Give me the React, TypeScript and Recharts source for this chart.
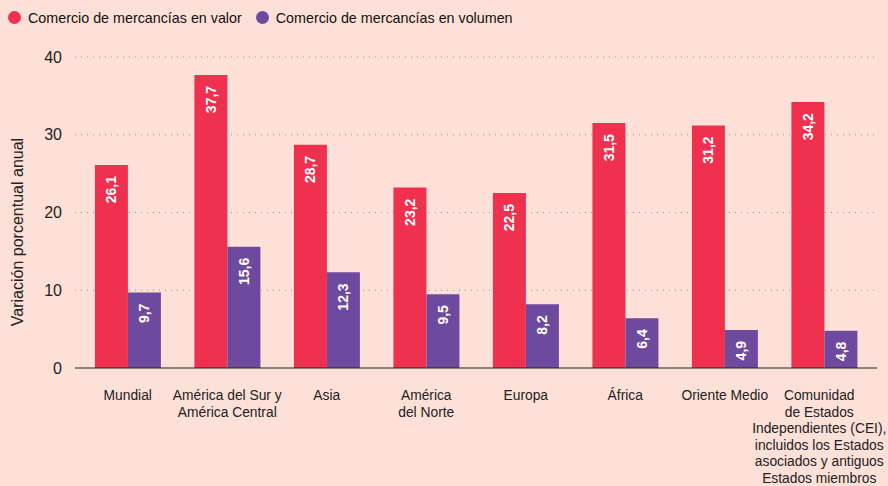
import React from 'react';
import { BarChart, Bar, XAxis, YAxis, CartesianGrid, LabelList, Label } from 'recharts';

const regions = [
  'Mundial',
  'América del Sur y\nAmérica Central',
  'Asia',
  'América\ndel Norte',
  'Europa',
  'África',
  'Oriente Medio',
  'Comunidad\nde Estados\nIndependientes (CEI),\nincluidos los Estados\nasociados y antiguos\nEstados miembros',
];
const valueGrowth = [26.1, 37.7, 28.7, 23.2, 22.5, 31.5, 31.2, 34.2];
const volumeGrowth = [9.7, 15.6, 12.3, 9.5, 8.2, 6.4, 4.9, 4.8];
const yTicks = [0, 10, 20, 30, 40];
const seriesNames = ['Comercio de mercancías en valor', 'Comercio de mercancías en volumen'];

const RED = '#f0304f';
const PURPLE = '#6e4a9e';
const BG = '#fde0d7';
const FONT = '"Liberation Sans", Arial, sans-serif';

const data = regions.map((region, i) => ({
  region,
  valor: valueGrowth[i],
  volumen: volumeGrowth[i],
}));

const fmt = (v: number) => v.toFixed(1).replace('.', ',');

const BarValue = (props: any) => {
  const { x, y, width, value } = props;
  const cx = x + width / 2;
  const ty = y + 11;
  return (
    <text
      x={cx}
      y={ty}
      transform={`rotate(-90, ${cx}, ${ty})`}
      textAnchor="end"
      dominantBaseline="central"
      fill="#fff"
      fontWeight="bold"
      fontSize={14}
      fontFamily={FONT}
    >
      {fmt(value)}
    </text>
  );
};

const RegionTick = (props: any) => {
  const { x, y, payload, index } = props;
  const lines = String(payload.value).split('\n');
  // the last (long) label sits a touch left so it stays inside the frame
  const tx = index === regions.length - 1 ? x - 5 : x;
  return (
    <text x={tx} y={y} textAnchor="middle" fill="#222" fontSize={13.8} fontFamily={FONT}>
      {lines.map((line, i) => (
        <tspan key={i} x={tx} dy={i === 0 ? 24 : 16.5}>
          {line}
        </tspan>
      ))}
    </text>
  );
};

const Dot = ({ color }: { color: string }) => (
  <span
    style={{
      display: 'inline-block',
      width: 13,
      height: 13,
      borderRadius: '50%',
      background: color,
      marginRight: 7,
      verticalAlign: -1,
    }}
  />
);

export default function App() {
  return (
    <div
      style={{
        position: 'fixed',
        left: 0,
        top: 0,
        width: 888,
        height: 486,
        background: BG,
        fontFamily: FONT,
        overflow: 'hidden',
      }}
    >
      <div
        style={{
          position: 'absolute',
          left: 8,
          top: 10,
          fontSize: 14.3,
          color: '#111',
          whiteSpace: 'nowrap',
        }}
      >
        <Dot color={RED} />
        <span style={{ marginRight: 14 }}>{seriesNames[0]}</span>
        <Dot color={PURPLE} />
        <span>{seriesNames[1]}</span>
      </div>
      <BarChart
        width={888}
        height={486}
        data={data}
        margin={{ top: 57, right: 11, bottom: 0, left: 0 }}
        barCategoryGap="17%"
        barGap={0}
      >
        <CartesianGrid
          vertical={false}
          stroke="#9a8f8c"
          strokeDasharray="1 5"
          horizontalValues={[10, 20, 30, 40]}
        />
        <XAxis
          dataKey="region"
          interval={0}
          tickLine={false}
          axisLine={{ stroke: '#222', strokeWidth: 1.2 }}
          height={118}
          padding={{ left: 3, right: 3 }}
          tick={<RegionTick />}
        />
        <YAxis
          width={75}
          domain={[0, 40]}
          ticks={yTicks}
          axisLine={false}
          tickLine={false}
          tickSize={0}
          tickMargin={13}
          tick={{ fill: '#222', fontSize: 16, fontFamily: FONT }}
        >
          <Label
            content={() => (
              <text
                x={23}
                y={232}
                transform="rotate(-90, 23, 232)"
                textAnchor="middle"
                fill="#222"
                fontSize={16}
                fontFamily={FONT}
              >
                Variación porcentual anual
              </text>
            )}
          />
        </YAxis>
        <Bar dataKey="valor" name={seriesNames[0]} fill={RED} isAnimationActive={false}>
          <LabelList dataKey="valor" content={<BarValue />} />
        </Bar>
        <Bar dataKey="volumen" name={seriesNames[1]} fill={PURPLE} isAnimationActive={false}>
          <LabelList dataKey="volumen" content={<BarValue />} />
        </Bar>
      </BarChart>
    </div>
  );
}
